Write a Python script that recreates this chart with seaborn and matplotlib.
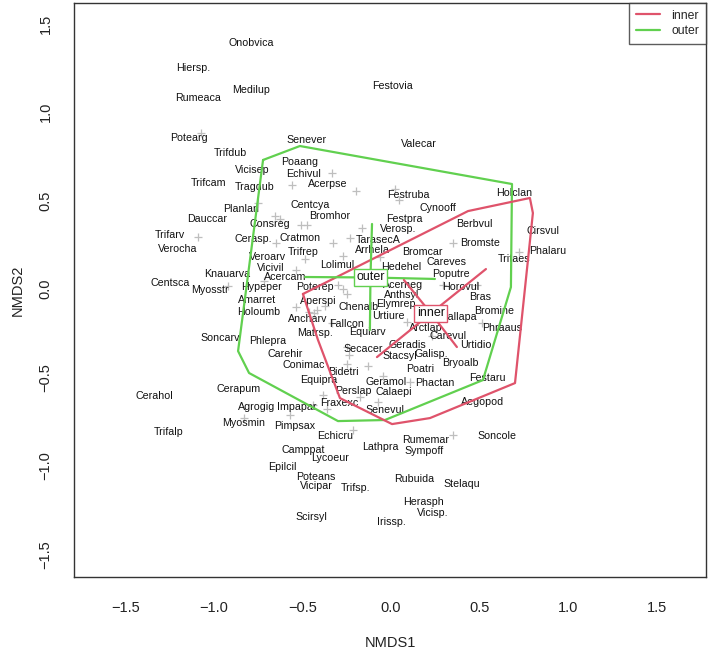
import numpy as np
import pandas as pd
import matplotlib
matplotlib.use("Agg")
import matplotlib.pyplot as plt
from matplotlib.lines import Line2D
import seaborn as sns

# ---------------- data ----------------
species = ["Onobvica","Hiersp.","Medilup","Rumeaca","Festovia","Potearg","Senever","Valecar",
           "Trifdub","Poaang","Vicisep","Echivul","Trifcam","Tragdub","Acerpse","Festruba",
           "Holclan","Centcya","Cynooff","Planlan","Bromhor","Festpra","Dauccar","Consreg",
           "Berbvul","Verosp.","Cirsvul","Trifarv","Cerasp.","Cratmon","TarasecA","Bromste",
           "Verocha","Arrhela","Phalaru","Trifrep","Bromcar","Veroarv","Tritaes","Careves",
           "Lolimul","Hedehel","Vicivil","Knauarva","Poputre","Acercam","Centsca","Acerneg",
           "Hypeper","Poterep","Horovul","Myosstr","Anthsyl","Bras","Amarret","Aperspi",
           "Elymrep","Chenalb","Bromine","Holoumb","Urtiure","Callapa","Ancharv","Fallcon",
           "Arctlap","Phraaus","Equiarv","Matrsp.","Carevul","Soncarv","Phlepra","Urtidio",
           "Geradis","Secacer","Galisp.","Carehir","Stacsyl","Bryoalb","Conimac","Poatri",
           "Bidetri","Festaru","Equipra","Geramol","Phactan","Cerapum","Perslap","Calaepi",
           "Cerahol","Aegopod","Fraxexc","Agrogig","Impapar","Senevul","Myosmin","Pimpsax",
           "Trifalp","Soncole","Echicru","Rumemar","Lathpra","Camppat","Sympoff","Lycoeur",
           "Epilcil","Poteans","Rubuida","Stelaqu","Vicipar","Trifsp.","Herasph","Vicisp.",
           "Scirsyl","Irissp."]
nmds1 = [-0.790,-1.117,-0.790,-1.089,0.006,-1.140,-0.474,0.158,
         -0.909,-0.514,-0.784,-0.491,-1.027,-0.767,-0.356,0.096,
         0.694,-0.457,0.265,-0.846,-0.344,0.073,-1.038,-0.683,
         0.468,0.040,0.858,-1.247,-0.779,-0.514,-0.073,0.502,
         -1.202,-0.107,0.886,-0.497,0.175,-0.694,0.694,0.316,
         -0.305,0.056,-0.677,-0.926,0.339,-0.598,-1.247,0.068,
         -0.728,-0.429,0.395,-1.021,0.062,0.502,-0.756,-0.412,
         0.028,-0.181,0.581,-0.745,-0.017,0.384,-0.468,-0.248,
         0.198,0.626,-0.135,-0.429,0.322,-0.965,-0.694,0.480,
         0.090,-0.158,0.226,-0.598,0.051,0.389,-0.491,0.164,
         -0.271,0.542,-0.406,-0.028,0.248,-0.863,-0.214,0.017,
         -1.337,0.519,-0.293,-0.756,-0.530,-0.034,-0.830,-0.542,
         -1.253,0.598,-0.316,0.198,-0.062,-0.497,0.186,-0.344,
         -0.615,-0.423,0.130,0.401,-0.423,-0.198,0.181,0.237,
         -0.451,0.000]
nmds2 = [1.391,1.250,1.126,1.080,1.148,0.854,0.843,0.820,
         0.769,0.718,0.673,0.650,0.600,0.577,0.594,0.532,
         0.543,0.475,0.458,0.452,0.413,0.396,0.396,0.368,
         0.368,0.339,0.328,0.305,0.283,0.288,0.277,0.260,
         0.226,0.221,0.215,0.209,0.209,0.181,0.170,0.153,
         0.136,0.124,0.119,0.085,0.085,0.068,0.034,0.024,
         0.011,0.011,0.011,-0.006,-0.032,-0.045,-0.062,-0.068,
         -0.085,-0.102,-0.124,-0.130,-0.153,-0.158,-0.170,-0.198,
         -0.221,-0.221,-0.245,-0.249,-0.266,-0.277,-0.294,-0.317,
         -0.317,-0.339,-0.368,-0.368,-0.379,-0.419,-0.430,-0.452,
         -0.469,-0.503,-0.515,-0.526,-0.532,-0.566,-0.577,-0.583,
         -0.605,-0.639,-0.645,-0.667,-0.667,-0.684,-0.758,-0.775,
         -0.809,-0.831,-0.831,-0.854,-0.894,-0.911,-0.916,-0.956,
         -1.007,-1.063,-1.075,-1.103,-1.114,-1.126,-1.205,-1.267,
         -1.290,-1.318]

# unlabelled species (drawn as +)
other_x = [-1.072,-0.559,-0.333,-0.198,0.023,0.045,-0.751,-0.655,-0.626,-0.508,
           -1.089,-0.649,-0.485,-0.536,-0.920,-0.717,-0.536,-0.463,-0.435,-0.327,
           -0.231,-0.164,-0.271,-0.062,-0.440,-0.570,-0.830,-0.214,0.350,-0.073,
           -0.384,-0.361,-0.175,-0.045,0.107,-0.248,-0.130,0.722,0.514,-0.299,
           -0.271,-0.248,-0.418,-0.372,-0.333,0.090,0.350,0.293,0.485,0.231,
           -0.248,-0.474,-0.237]
other_y = [0.882,0.588,0.656,0.554,0.566,0.503,0.486,0.413,0.396,0.362,
           0.294,0.260,0.170,0.107,0.017,0.045,-0.102,-0.130,-0.136,0.260,
           0.288,0.345,0.187,0.181,-0.656,-0.713,-0.730,-0.798,-0.826,-0.639,
           -0.600,-0.679,-0.611,-0.492,-0.526,-0.424,-0.436,0.209,-0.192,0.023,
           0.000,-0.028,-0.119,-0.096,-0.192,-0.187,0.260,0.023,0.023,-0.266,
           -0.328,0.362,-0.373]

# convex hulls per group
hull_outer_x = [-0.722,-0.514,0.683,0.677,0.519,-0.034,-0.299,-0.801,-0.863]
hull_outer_y = [0.730,0.809,0.594,0.011,-0.515,-0.741,-0.747,-0.475,-0.351]
hull_inner_x = [-0.497,0.435,0.784,0.801,0.700,0.220,0.006,-0.288,-0.412]
hull_inner_y = [-0.028,0.441,0.515,0.430,-0.532,-0.730,-0.764,-0.617,-0.288]

# sites for spiders
sites_outer_x = [-0.107,-0.485,0.248,-0.119]
sites_outer_y = [0.368,0.068,0.057,-0.232]
sites_inner_x = [0.073,0.536,-0.079,0.372]
sites_inner_y = [0.051,0.113,-0.385,-0.328]

groups = ["inner", "outer"]
col_inner = "#DF536B"
col_outer = "#61D04F"

# ---------------- figure ----------------
sns.set_style("white")
plt.rcParams["font.family"] = ["Liberation Sans", "DejaVu Sans"]

W, H = 709, 652
fig = plt.figure(figsize=(W/100, H/100), dpi=100)
ax = fig.add_axes([74/W, 1-577/H, 632/W, 574/H])

# unlabelled species
sns.scatterplot(x=other_x, y=other_y, marker="+", color="#BEBEBE", s=30,
                linewidth=0.9, ax=ax, zorder=2, legend=False)

# species labels
for nm, x, y in zip(species, nmds1, nmds2):
    ax.text(x, y, nm, ha="center", va="center", fontsize=7.7, color="#111111", zorder=3)

# hulls
def closed(a):
    return list(a) + [a[0]]

sns.lineplot(x=closed(hull_outer_x), y=closed(hull_outer_y), sort=False, estimator=None,
             color=col_outer, lw=1.6, ax=ax, zorder=4)
sns.lineplot(x=closed(hull_inner_x), y=closed(hull_inner_y), sort=False, estimator=None,
             color=col_inner, lw=1.6, ax=ax, zorder=4)

# spiders with centroid labels
for lab, sx, sy, col in [("outer", sites_outer_x, sites_outer_y, col_outer),
                         ("inner", sites_inner_x, sites_inner_y, col_inner)]:
    cx, cy = np.mean(sx), np.mean(sy)
    for px, py in zip(sx, sy):
        ax.plot([cx, px], [cy, py], color=col, lw=1.6, zorder=4)
    ax.text(cx, cy, lab, ha="center", va="center", fontsize=9, color="#111111", zorder=6,
            bbox=dict(boxstyle="square,pad=0.2", facecolor="white", edgecolor=col, lw=1.0))

ax.set_xlim(-1.789, 1.778)
ax.set_ylim(-1.629, 1.618)
ticks = [-1.5, -1.0, -0.5, 0.0, 0.5, 1.0, 1.5]
ax.set_xticks(ticks)
ax.set_yticks(ticks)
ax.set_xticklabels([f"{t:.1f}".replace("-", "\u2212") for t in ticks])
ax.set_yticklabels([f"{t:.1f}".replace("-", "\u2212") for t in ticks], rotation=90, va="center")
ax.tick_params(axis="both", direction="out", length=6.5, width=0.8, color="#333333",
               labelsize=10.5, labelcolor="#222222")
ax.tick_params(axis="x", pad=11)
ax.tick_params(axis="y", pad=9)
for sp in ax.spines.values():
    sp.set_visible(True)
    sp.set_color("#333333")
    sp.set_linewidth(1.0)

ax.set_xlabel("NMDS1", fontsize=10.5, color="#222222")
ax.set_ylabel("NMDS2", fontsize=10.5, color="#222222")
ax.xaxis.set_label_coords(0.5, -0.115)
ax.xaxis.label.set_va("center")
ax.yaxis.set_label_coords(-0.0886, 0.5)
ax.yaxis.label.set_va("center")

handles = [Line2D([0], [0], color=col_inner, lw=1.6),
           Line2D([0], [0], color=col_outer, lw=1.6)]
leg = ax.legend(handles, groups, loc="upper right", fontsize=8.8, frameon=True,
                fancybox=False, borderaxespad=0, handlelength=2.0, labelspacing=0.3,
                borderpad=0.55, handletextpad=0.9)
leg.get_frame().set_edgecolor("#333333")
leg.get_frame().set_linewidth(1.0)

fig.savefig("out.png", dpi=100)
